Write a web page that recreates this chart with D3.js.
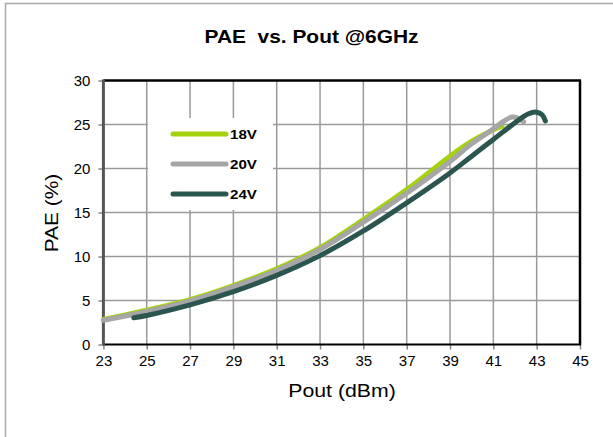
<!DOCTYPE html>
<html>
<head>
<meta charset="utf-8">
<script src="https://cdn.jsdelivr.net/npm/d3@7"></script>
<style>
    body { margin: 0; background: #fff; }
    text { font-family: Arial, "Liberation Sans", sans-serif; }
</style>
</head>
<body>
<script>

// data
let seriesNames = ["18V", "20V", "24V"]

let pout18V = [23, 25, 27, 29, 31, 33, 35, 37, 39, 40, 41, 41.4]
let pae18V  = [2.85, 3.9, 5.1, 6.7, 8.6, 11.0, 14.2, 17.6, 21.4, 23.1, 24.4, 24.8]

let pout20V = [23, 25, 27, 29, 31, 33, 35, 37, 39, 40, 41, 41.5, 41.85, 42.1, 42.4]
let pae20V  = [2.75, 3.75, 4.95, 6.55, 8.4, 10.8, 13.9, 17.2, 20.8, 22.8, 24.5, 25.4, 25.85, 25.75, 25.3]

let pout24V = [24.4, 25, 27, 29, 31, 33, 35, 37, 39, 40, 41, 42, 42.6, 43.0, 43.25, 43.4]
let pae24V  = [3.05, 3.3, 4.5, 6.0, 7.85, 10.1, 12.9, 16.1, 19.5, 21.4, 23.3, 25.2, 26.2, 26.4, 26.1, 25.4]

let xTicks = [23, 25, 27, 29, 31, 33, 35, 37, 39, 41, 43, 45]
let yTicks = [0, 5, 10, 15, 20, 25, 30]

let colors = ["#a4d20c", "#a6a6a6", "#2b5650"]

let W = 613
let H = 437
let pLeft = 103.4, pRight = 580, pTop = 80.5, pBottom = 344.5

let svg = d3.select("body")
            .append("svg")
                .attr("width", W)
                .attr("height", H)

// outer frame
svg.append("rect")
    .attr("x", 5.5)
    .attr("y", 3.5)
    .attr("width", 700)
    .attr("height", 500)
    .attr("fill", "none")
    .attr("stroke", "#a8a8a8")
    .attr("stroke-width", 1.5)

svg.append("text")
    .attr("transform", "translate(311.5,42.7) scale(1.1,1)")
    .attr("text-anchor", "middle")
    .attr("font-size", "19px")
    .attr("font-weight", "bold")
    .attr("xml:space", "preserve")
    .text("PAE  vs. Pout @6GHz")

let x = d3.scaleLinear().domain([23, 45]).range([pLeft, pRight])
let y = d3.scaleLinear().domain([0, 30]).range([pBottom, pTop])

// grid
svg.append("g")
    .selectAll("line")
    .data(yTicks.filter(d => d > 0 && d < 30))
    .enter()
    .append("line")
        .attr("x1", pLeft)
        .attr("x2", pRight)
        .attr("y1", d => y(d))
        .attr("y2", d => y(d))
        .attr("stroke", "#9a9a9a")
        .attr("stroke-width", 1.5)

svg.append("g")
    .selectAll("line")
    .data(xTicks.filter(d => d > 23 && d < 45))
    .enter()
    .append("line")
        .attr("x1", d => x(d))
        .attr("x2", d => x(d))
        .attr("y1", pTop)
        .attr("y2", pBottom)
        .attr("stroke", "#9a9a9a")
        .attr("stroke-width", 1.5)

// axes
let xAxis = svg.append("g")
    .attr("transform", "translate(0," + pBottom + ")")
    .call(d3.axisBottom(x).tickValues(xTicks).tickSize(5).tickPadding(6).tickFormat(d3.format("d")))
xAxis.select(".domain").remove()
xAxis.selectAll("line").attr("stroke", "#888").attr("stroke-width", 1.5)
xAxis.selectAll("text").attr("font-size", "15px").attr("fill", "#000")

let yAxis = svg.append("g")
    .attr("transform", "translate(" + pLeft + ",0)")
    .call(d3.axisLeft(y).tickValues(yTicks).tickSize(5).tickPadding(8).tickFormat(d3.format("d")))
yAxis.select(".domain").remove()
yAxis.selectAll("line").attr("stroke", "#888").attr("stroke-width", 1.5)
yAxis.selectAll("text").attr("font-size", "15px").attr("fill", "#000")

// plot border
svg.append("line")
    .attr("x1", pLeft).attr("x2", pRight + 1)
    .attr("y1", pTop).attr("y2", pTop)
    .attr("stroke", "#000").attr("stroke-width", 2.5)
svg.append("line")
    .attr("x1", pRight).attr("x2", pRight)
    .attr("y1", pTop).attr("y2", pBottom)
    .attr("stroke", "#000").attr("stroke-width", 2.5)
svg.append("line")
    .attr("x1", pLeft).attr("x2", pRight + 1)
    .attr("y1", pBottom).attr("y2", pBottom)
    .attr("stroke", "#000").attr("stroke-width", 2)
svg.append("line")
    .attr("x1", pLeft).attr("x2", pLeft)
    .attr("y1", pTop - 1).attr("y2", pBottom + 1)
    .attr("stroke", "#555").attr("stroke-width", 3)

// legend box hides the grid behind it
svg.append("rect")
    .attr("x", 148)
    .attr("y", 118)
    .attr("width", 125)
    .attr("height", 92)
    .attr("fill", "#fff")

let series = [
    d3.zip(pout18V, pae18V),
    d3.zip(pout20V, pae20V),
    d3.zip(pout24V, pae24V)
]

let line = d3.line()
            .x(d => x(d[0]))
            .y(d => y(d[1]))
            .curve(d3.curveCatmullRom.alpha(0.5))

svg.append("g")
    .selectAll("path")
    .data(series)
    .enter()
    .append("path")
        .attr("d", line)
        .attr("fill", "none")
        .attr("stroke", (d, i) => colors[i])
        .attr("stroke-width", 5)
        .attr("stroke-linecap", "round")
        .attr("stroke-linejoin", "round")

let legend = svg.append("g")
                .selectAll("g")
                .data(seriesNames)
                .enter()
                .append("g")
                .attr("transform", (d, i) => "translate(0," + (134 + 30 * i) + ")")

legend.append("line")
    .attr("x1", 173)
    .attr("x2", 226)
    .attr("stroke", (d, i) => colors[i])
    .attr("stroke-width", 5)
    .attr("stroke-linecap", "round")

legend.append("text")
    .attr("transform", "translate(230,5) scale(1.12,1)")
    .attr("font-size", "13.5px")
    .attr("font-weight", "bold")
    .text(d => d)

svg.append("text")
    .attr("transform", "translate(342,397) scale(1.12,1)")
    .attr("text-anchor", "middle")
    .attr("font-size", "19px")
    .text("Pout (dBm)")

svg.append("text")
    .attr("transform", "translate(58,213) rotate(-90) scale(1.1,1)")
    .attr("text-anchor", "middle")
    .attr("font-size", "19px")
    .text("PAE (%)")

</script>
</body>
</html>
